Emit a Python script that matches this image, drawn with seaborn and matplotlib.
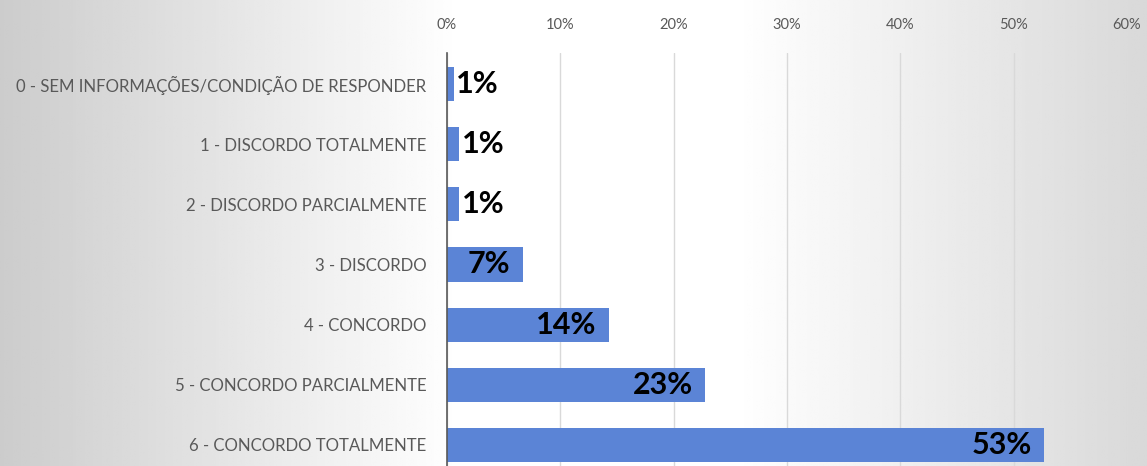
import numpy as np
import pandas as pd
import matplotlib.pyplot as plt
import seaborn as sns

# categorias e percentuais
categorias = [
    "0 - SEM INFORMAÇÕES/CONDIÇÃO DE RESPONDER",
    "1 - DISCORDO TOTALMENTE",
    "2 - DISCORDO PARCIALMENTE",
    "3 - DISCORDO",
    "4 - CONCORDO",
    "5 - CONCORDO PARCIALMENTE",
    "6 - CONCORDO TOTALMENTE",
]
percentuais = [0.6, 1.1, 1.1, 6.7, 14.3, 22.8, 52.7]
rotulos = ["1%", "1%", "1%", "7%", "14%", "23%", "53%"]
ticks_x = [0, 10, 20, 30, 40, 50, 60]

df = pd.DataFrame({"categoria": categorias, "pct": percentuais})

sns.set_style("white")
plt.rcParams["font.family"] = ["Lato", "DejaVu Sans"]

fig = plt.figure(figsize=(11.47, 4.66), dpi=100)

# fundo em degrade (cinza nas bordas, branco no centro)
bg = fig.add_axes([0, 0, 1, 1], zorder=-1)
xs = np.linspace(0, 1, 400)
perfil = np.interp(xs, [0, 0.40, 0.64, 1], [0.80, 1.0, 1.0, 0.85])
bg.imshow(np.tile(perfil, (10, 1)), cmap="gray", vmin=0, vmax=1, aspect="auto",
          extent=[0, 1, 0, 1])
bg.axis("off")

ax = fig.add_axes([0.3897, 0.0, 0.5929, 0.886])
ax.set_facecolor("none")
sns.barplot(data=df, x="pct", y="categoria", orient="h", color="#5b84d6",
            width=0.57, saturation=1, linewidth=0, ax=ax, zorder=3)

ax.set_xlim(0, 60)
ax.set_ylim(6.35, -0.514)
ax.set_xticks(ticks_x)
ax.set_xticklabels([f"{t}%" for t in ticks_x])
ax.xaxis.tick_top()
ax.tick_params(axis="x", length=0, pad=15, labelsize=10.5, labelcolor="#595959")
ax.tick_params(axis="y", length=0, pad=15, labelsize=12.1, labelcolor="#595959")
ax.grid(axis="x", color="#d9d9d9", linewidth=1, zorder=0)
ax.set_xlabel("")
ax.set_ylabel("")

for s in ["top", "right", "bottom"]:
    ax.spines[s].set_visible(False)
ax.spines["left"].set_color("#595959")
ax.spines["left"].set_linewidth(1.2)
ax.spines["left"].set_zorder(4)

for i, (v, r) in enumerate(zip(percentuais, rotulos)):
    if v < 3:
        ax.annotate(r, (v, i), xytext=(1.5, 0), textcoords="offset points",
                    ha="left", va="center", fontsize=22, fontweight="bold",
                    color="black", zorder=5)
    else:
        ax.annotate(r, (v, i), xytext=(-9, 0), textcoords="offset points",
                    ha="right", va="center", fontsize=22, fontweight="bold",
                    color="black", zorder=5)

plt.savefig("out.png", dpi=100)
